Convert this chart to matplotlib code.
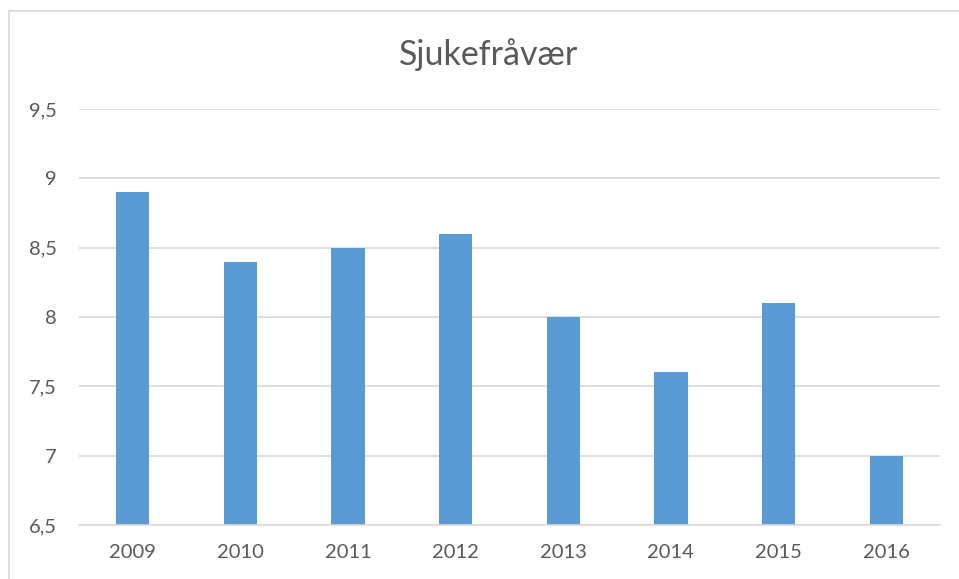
import matplotlib
matplotlib.use("Agg")
import matplotlib.pyplot as plt
from matplotlib.patches import Rectangle

years = ["2009", "2010", "2011", "2012", "2013", "2014", "2015", "2016"]
values = [8.9, 8.4, 8.5, 8.6, 8.0, 7.6, 8.1, 7.0]
yticks = [6.5, 7, 7.5, 8, 8.5, 9, 9.5]
ytick_labels = ["6,5", "7", "7,5", "8", "8,5", "9", "9,5"]

plt.rcParams['font.family'] = ['Lato', 'DejaVu Sans']
W, H = 959, 579
fig = plt.figure(figsize=(W/100, H/100), dpi=100)
fig.patch.set_facecolor('white')

# chart border
fig.patches.append(Rectangle((8.5/W, -0.1), 1.2, (H - 10.5)/H + 0.1,
                             transform=fig.transFigure, fill=False,
                             edgecolor='#d9d9d9', linewidth=1.2))

left, right, top, bottom = 79, 940, 109, 525
ax = fig.add_axes([left/W, 1 - bottom/H, (right-left)/W, (bottom-top)/H])
x = list(range(len(years)))
ax.bar(x, values, width=0.31, bottom=0, color='#5b9bd5', zorder=3)
ax.set_xlim(-0.5, len(years) - 0.5)
ax.set_ylim(6.5, 9.5)
ax.set_yticks(yticks)
ax.set_yticklabels(ytick_labels)
ax.set_xticks(x)
ax.set_xticklabels(years)
ax.tick_params(axis='both', length=0, labelsize=14.5, colors='#595959')
ax.tick_params(axis='y', pad=16)
ax.tick_params(axis='x', pad=14)
ax.grid(axis='y', color='#d9d9d9', linewidth=1.2, zorder=0)
for s in ['top', 'right', 'left']:
    ax.spines[s].set_visible(False)
ax.spines['bottom'].set_color('#d9d9d9')
ax.spines['bottom'].set_linewidth(1.2)
ax.spines['bottom'].set_zorder(4)
ax.set_facecolor('none')

fig.text(489/W, 1 - 55/H, "Sjukefråvær", ha='center', va='center',
         fontsize=24.5, color='#595959')

fig.savefig("out.png", dpi=100)
